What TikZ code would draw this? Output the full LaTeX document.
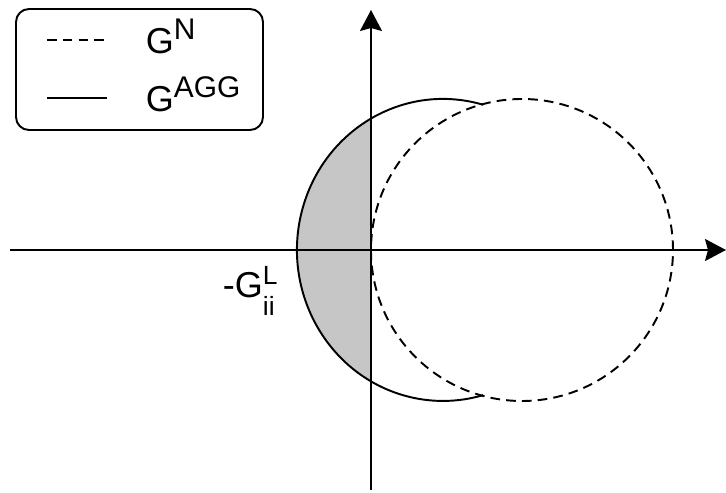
\documentclass[tikz,border=0pt]{standalone}
\usepackage{fontspec}
\setmainfont{Liberation Sans}
\usetikzlibrary{arrows.meta}
\begin{document}
\begin{tikzpicture}[x=0.02cm, y=0.02cm, line width=1.1pt,
    axis/.style={-{Stealth[length=0.42cm, width=0.44cm, inset=0.06cm]}},
    gn/.style={dash pattern=on 5.5pt off 3.5pt},
    txt/.style={inner sep=0pt, anchor=base west, font=\fontsize{20.5}{24}\selectfont},
    idx/.style={font=\fontsize{17}{19}\selectfont}]
  \useasboundingbox (-371,-243) rectangle (355,250);
  \coordinate (O) at (0,0);
  \coordinate (xl) at (-361,0);
  \coordinate (xr) at (355,0);
  \coordinate (yb) at (0,-240);
  \coordinate (yt) at (0,240);
  % shaded part
  \fill[gray!45] (0.1,131.4) arc[start angle=119.5, end angle=240.5, x radius=146, y radius=151] -- cycle;
  % the two curves
  \draw[gn] (151,0) circle[radius=151];
  \draw (112.2,145.2) arc[start angle=74, end angle=286, x radius=146, y radius=151];
  % axes
  \draw[axis] (xl) -- (xr);
  \draw[axis] (yb) -- (yt);
  % legend
  \draw[rounded corners=0.26cm] (-355,241) rectangle (-108,120);
  \coordinate (dl) at (-324,210);
  \coordinate (dr) at (-264,210);
  \draw[gn] (dl) -- (dr);
  \node[txt] (gn) at (-226,196) {G\raisebox{8pt}{\fontsize{17}{19}\selectfont N}};
  \coordinate (sl) at (-324,152);
  \coordinate (sr) at (-264,152);
  \draw (sl) -- (sr);
  \node[txt] (gagg) at (-226,138) {G\raisebox{8pt}{\fontsize{17}{19}\selectfont AGG}};
  \node[txt] (gl) at (-149,-48) {-G\rlap{\raisebox{7.4pt}{\fontsize{15}{17}\selectfont L}}\raisebox{-9.7pt}{\fontsize{15}{17}\selectfont ii}};
\end{tikzpicture}
\end{document}
